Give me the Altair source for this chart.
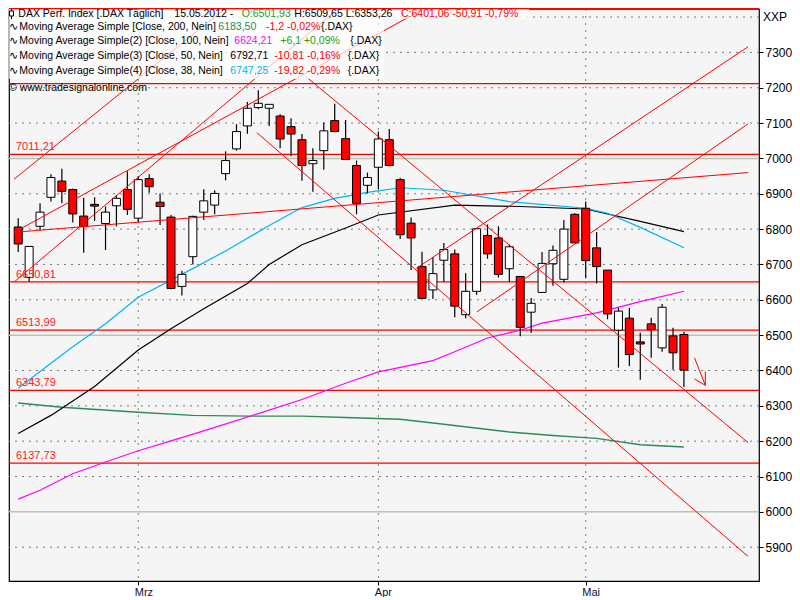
import altair as alt
import pandas as pd

# ---------------- data ----------------
candle_idx = list(range(62))
opens = [6806, 6663, 6808, 6890, 6936, 6912, 6837, 6870, 6816, 6866,
         6912, 6831, 6943, 6876, 6834, 6638, 6722, 6848, 6868, 6957,
         7027, 7092, 7144, 7142, 7120, 7090, 7053, 6985, 7022, 7107,
         7056, 6980, 6924, 6975, 7053, 6940, 6817, 6694, 6628, 6712,
         6730, 6558, 6624, 6782, 6775, 6688, 6666, 6565, 6621, 6702,
         6658, 6842, 6859, 6747, 6684, 6514, 6548, 6481, 6532, 6464,
         6498, 6501.93]
highs = [6831, 6751, 6873, 6955, 6971, 6915, 6889, 6890, 6864, 6896,
         6964, 6950, 6955, 6901, 6840, 6682, 6838, 6913, 6910, 7020,
         7097, 7160, 7193, 7153, 7125, 7114, 7069, 7029, 7102, 7155,
         7109, 6994, 6960, 7076, 7083, 6945, 6833, 6736, 6721, 6761,
         6742, 6675, 6801, 6813, 6808, 6756, 6666, 6605, 6735, 6754,
         6826, 6845, 6878, 6792, 6684, 6577, 6577, 6507, 6549, 6588,
         6521, 6509.65]
lows = [6735, 6651, 6796, 6878, 6873, 6819, 6733, 6824, 6741, 6808,
        6840, 6819, 6903, 6812, 6630, 6612, 6700, 6826, 6842, 6938,
        7022, 7070, 7139, 7092, 7029, 7006, 6937, 6906, 6968, 7074,
        6997, 6842, 6901, 6912, 6978, 6772, 6684, 6604, 6602, 6651,
        6551, 6548, 6614, 6716, 6663, 6651, 6497, 6506, 6621, 6640,
        6649, 6761, 6661, 6646, 6545, 6408, 6413, 6374, 6436, 6453,
        6402, 6353.26]
closes = [6758, 6751, 6848, 6946, 6907, 6843, 6808, 6865, 6848, 6887,
          6856, 6940, 6920, 6864, 6632, 6672, 6836, 6880, 6901, 6994,
          7076, 7142, 7156, 7153, 7055, 7069, 6980, 6994, 7078, 7076,
          6997, 6873, 6946, 7055, 6980, 6784, 6775, 6604, 6674, 6742,
          6582, 6624, 6801, 6730, 6672, 6750, 6522, 6590, 6703, 6740,
          6800, 6761, 6711, 6694, 6560, 6568, 6445, 6475, 6516, 6579,
          6450, 6401.06]

ma200_idx = [0, 4, 11, 16, 21, 26, 30, 35, 39, 45, 49, 53, 57, 61]
ma200_val = [6308, 6296, 6282, 6273, 6271, 6271, 6267, 6262, 6248, 6226, 6216, 6208, 6190, 6183.5]

ma100_idx = [0, 2, 5, 8, 11, 14, 17, 22, 26, 30, 33, 38, 40, 43, 46, 48, 53, 57, 61]
ma100_val = [6036, 6061, 6108, 6141, 6173, 6201, 6229, 6278, 6318, 6364, 6396, 6428, 6453, 6492,
             6514, 6534, 6563, 6595, 6624.2]

ma50_idx = [0, 3, 7, 11, 14, 17, 21, 23, 26, 30, 33, 40, 46, 52, 57, 61]
ma50_val = [6222, 6273, 6355, 6458, 6518, 6575, 6646, 6700, 6756, 6803, 6840, 6868, 6864, 6857,
            6822, 6792.7]

ma38_idx = [0, 2, 5, 8, 11, 15, 19, 23, 26, 29, 32, 35, 39, 45, 52, 54, 57, 61]
ma38_val = [6350, 6397, 6467, 6532, 6607, 6672, 6738, 6810, 6861, 6887, 6904, 6917, 6910, 6878,
            6859, 6845, 6805, 6747.3]

# trend lines (candle index, price) start -> end
tl_x1 = [-0.386, -0.386, -0.386, -0.386, 21.86, 26.34, 36.48, 42.04]
tl_y1 = [6941, 6650, 6791, 6791, 7073, 7232, 6689, 6566]
tl_x2 = [18.9, 29.26, 37.15, 66.88, 66.88, 66.88, 66.88, 66.88]
tl_y2 = [7422.8, 7422.8, 7422.8, 6960, 5874, 6196, 7316, 7098]

# small arrow
arrow_x1 = [61.97, 61.97, 62.96]
arrow_y1 = [6436, 6376, 6397]
arrow_x2 = [62.96, 62.96, 62.96]
arrow_y2 = [6358, 6358, 6358]

level_vals = [7211.9, 7011.21, 6650.81, 6513.99, 6343.79, 6137.73]
level_texts = ["", "7011,21", "6650,81", "6513,99", "6343,79", "6137,73"]

grid_levels = list(range(5900, 7401, 100))
y_ticks = list(range(5900, 7301, 100))
month_idx = [11, 33, 52]
month_names = ["Mrz", "Apr", "Mai"]

# ---------------- chart ----------------
W, H = 750, 572
FONT = "Liberation Sans"
xs = alt.Scale(domain=[-0.386, 67.42], nice=False, zero=False)
ys = alt.Scale(domain=[5804.4, 7422.8], nice=False, zero=False)
one = pd.DataFrame({"d": [0]})

df = pd.DataFrame({"i": candle_idx, "o": opens, "h": highs, "l": lows, "c": closes})
df["top"] = df[["o", "c"]].max(axis=1)
df["bot"] = df[["o", "c"]].min(axis=1)
df["fill"] = ["#ff0000" if c < o else "#ffffff" for o, c in zip(opens, closes)]

dotted_vals = [v for v in grid_levels if v % 500 != 0]
solid_vals = [v for v in grid_levels if v % 500 == 0]
grid_dotted = alt.Chart(pd.DataFrame({"v": dotted_vals})).mark_rule(
    color="#7a7a7a", strokeWidth=1).encode(
    y=alt.Y("v:Q", scale=ys, axis=None), strokeDash=alt.value([2, 5]))
grid_solid = alt.Chart(pd.DataFrame({"v": solid_vals})).mark_rule(
    color="#b6c6b0", strokeWidth=1.5).encode(
    y=alt.Y("v:Q", scale=ys, axis=None))

label_expr = " : ".join(
    [f"datum.value == {i} ? '{n}'" for i, n in zip(month_idx, month_names)]) + " : ''"
month_df = pd.DataFrame({"i": month_idx})
month_grid = alt.Chart(month_df).mark_rule(color="#5f955f", strokeWidth=1).encode(
    x=alt.X("i:Q", scale=xs, axis=alt.Axis(
        values=month_idx, labelExpr=label_expr, tickSize=4, tickColor="black",
        labelAlign="left", labelBaseline="top", labelPadding=1, labelOffset=-4, labelFontSize=11,
        labelFont=FONT, labelColor="#101030", domain=False, grid=False, title=None,
        labelFlush=False, labelOverlap=False)),
    strokeDash=alt.value([2, 5]))

lev_df = pd.DataFrame({"v": level_vals, "t": level_texts})
levels = alt.Chart(lev_df).mark_rule(color="#ff0000", strokeWidth=1.3).encode(
    y=alt.Y("v:Q", scale=ys, axis=None))
level_labels = alt.Chart(lev_df).mark_text(
    align="left", baseline="middle", dy=-7, fontSize=11, font=FONT, color="#ff2020").encode(
    x=alt.value(7), y=alt.Y("v:Q", scale=ys, axis=None), text="t:N")


def ma_line(ix, vals, color, width=1.2):
    d = pd.DataFrame({"i": ix, "v": vals})
    return alt.Chart(d).mark_line(color=color, strokeWidth=width, clip=True).encode(
        x=alt.X("i:Q", scale=xs, axis=None), y=alt.Y("v:Q", scale=ys, axis=None))


ma200 = ma_line(ma200_idx, ma200_val, "#2e8b57", 1.4)
ma100 = ma_line(ma100_idx, ma100_val, "#ff00ff")
ma50 = ma_line(ma50_idx, ma50_val, "#000000")
ma38 = ma_line(ma38_idx, ma38_val, "#00b4f5")

tl_df = pd.DataFrame({"x1": tl_x1, "y1": tl_y1, "x2": tl_x2, "y2": tl_y2})
trend = alt.Chart(tl_df).mark_rule(color="#ff0000", strokeWidth=1, clip=True).encode(
    x=alt.X("x1:Q", scale=xs, axis=None), x2="x2:Q",
    y=alt.Y("y1:Q", scale=ys, axis=None), y2="y2:Q")

ar_df = pd.DataFrame({"x1": arrow_x1, "y1": arrow_y1, "x2": arrow_x2, "y2": arrow_y2})
arrow = alt.Chart(ar_df).mark_rule(color="#ff0000", strokeWidth=1).encode(
    x=alt.X("x1:Q", scale=xs, axis=None), x2="x2:Q",
    y=alt.Y("y1:Q", scale=ys, axis=None), y2="y2:Q")

wicks = alt.Chart(df).mark_rule(color="black", strokeWidth=1.2).encode(
    x=alt.X("i:Q", scale=xs, axis=None),
    y=alt.Y("l:Q", scale=ys, axis=alt.Axis(
        orient="right", values=y_ticks, format="d", tickSize=4, tickColor="black",
        labelPadding=2, labelFontSize=12, labelFont=FONT, labelColor="black",
        domain=False, grid=False, title=None, labelOverlap=False, labelFlush=False)),
    y2="h:Q")
bodies = alt.Chart(df).mark_bar(size=8, stroke="black", strokeWidth=1).encode(
    x=alt.X("i:Q", scale=xs, axis=None),
    y=alt.Y("top:Q", scale=ys, axis=None), y2="bot:Q",
    color=alt.Color("fill:N", scale=None))

top_border = alt.Chart(one).mark_rule(color="#ff0000", strokeWidth=2).encode(
    x=alt.value(0), x2=alt.value(W), y=alt.value(0))

xxp = alt.Chart(pd.DataFrame({"v": [7400]})).mark_text(
    text="XXP", align="left", baseline="middle", fontSize=12, font=FONT, color="black").encode(
    x=alt.value(W + 4), y=alt.Y("v:Q", scale=ys, axis=None))

box1 = alt.Chart(one).mark_rect(fill="white", opacity=0.72).encode(
    x=alt.value(0), x2=alt.value(520), y=alt.value(0), y2=alt.value(10))
box2 = alt.Chart(one).mark_rect(fill="white", opacity=0.72).encode(
    x=alt.value(0), x2=alt.value(375), y=alt.value(10), y2=alt.value(70))

icon_line = alt.Chart(one).mark_rule(color="black", strokeWidth=1).encode(
    x=alt.value(2.5), y=alt.value(0), y2=alt.value(10))
icon_box = alt.Chart(one).mark_rect(fill="white", stroke="black", strokeWidth=1).encode(
    x=alt.value(0.5), x2=alt.value(4.5), y=alt.value(2), y2=alt.value(7))


def txt(s, px, py, color="black", size=10.5, font=FONT, baseline="middle"):
    return alt.Chart(one).mark_text(
        text=s, align="left", baseline=baseline, fontSize=size, font=font, color=color).encode(
        x=alt.value(px), y=alt.value(py))


GREEN = "#22a022"
RED = "#ff0000"
legend_layers = [
    txt("DAX Perf. Index [.DAX  Täglich]", 9.3, 0, baseline="top"),
    txt("15.05.2012 -", 165.3, 0, baseline="top"),
    txt("O:6501,93", 232.7, 0, GREEN, baseline="top"),
    txt("H:6509,65 L:6353,26", 285.3, 0, baseline="top"),
    txt("C:6401,06 -50,91 -0,79%", 392, 0, RED, baseline="top"),
]
rows = [
    ("Moving Average Simple [Close, 200, Nein]", "6183,50", "#2e8b57", "-1,2 -0,02%", RED,
     209.3, 257, 312, 17.5),
    ("Moving Average Simple(2) [Close, 100, Nein]", "6624,21", "#ff00ff", "+6,1 +0,09%", GREEN,
     225.3, 271.3, 341.3, 32),
    ("Moving Average Simple(3) [Close, 50, Nein]", "6792,71", "black", "-10,81 -0,16%", RED,
     221.3, 265.3, 338.7, 47),
    ("Moving Average Simple(4) [Close, 38, Nein]", "6747,25", "#00b4f5", "-19,82 -0,29%", RED,
     221.3, 265.3, 338.7, 62),
]
for name, val, vcol, chg, ccol, xv, xc, xd, py in rows:
    legend_layers += [
        txt("∿", 0, py, size=11, font="DejaVu Sans"),
        txt(name, 10.3, py),
        txt(val, xv, py, vcol),
        txt(chg, xc, py, ccol),
        txt("{.DAX}", xd, py),
    ]
legend_layers.append(txt("© www.tradesignalonline.com", 0, 78.5))

chart = alt.layer(
    grid_solid, grid_dotted, month_grid, levels,
    ma200, ma100, ma50, ma38,
    wicks, bodies, trend, arrow,
    top_border, box1, box2, icon_line, icon_box,
    *legend_layers, level_labels, xxp,
).resolve_axis(x="independent", y="independent").properties(
    width=W, height=H, padding=0).configure_view(
    stroke="black", strokeWidth=1.2, fill="#f5f5f5")

chart.save("out.html", embed_options={"renderer": "svg", "actions": False})
